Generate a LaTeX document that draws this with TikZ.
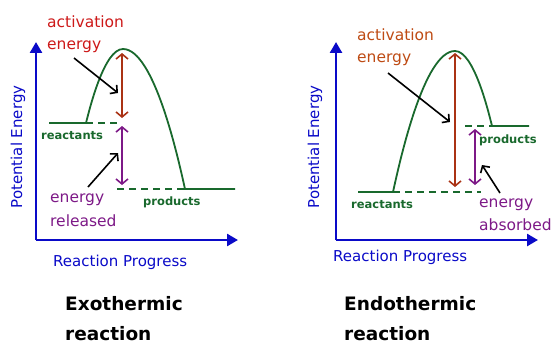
\documentclass[tikz,border=0pt]{standalone}
\usepackage{fontspec}
\setmainfont{DejaVu Sans}
\usetikzlibrary{arrows.meta}
\definecolor{axisblue}{RGB}{10,10,200}
\definecolor{curvegreen}{RGB}{25,105,45}
\definecolor{actred}{RGB}{205,25,25}
\definecolor{actorange}{RGB}{190,75,20}
\definecolor{arrowred}{RGB}{170,50,20}
\definecolor{deltapurple}{RGB}{125,25,135}

\begin{document}
\begin{tikzpicture}[
    x=1pt,y=-1pt,
    axis/.style={axisblue,line width=2.6pt,-{Triangle[length=11pt,width=12pt]}},
    curve/.style={curvegreen,line width=1.8pt},
    level/.style={curvegreen,line width=1.8pt,dash pattern=on 7pt off 5pt},
    gap/.style={line width=1.6pt,{Straight Barb[length=5pt,width=12pt]}-{Straight Barb[length=5pt,width=12pt]}},
    pointer/.style={black,line width=1.6pt,-{Straight Barb[length=5pt,width=11pt]}},
    lbl/.style={anchor=base west,inner sep=0pt,font=\fontsize{15.5}{17}\selectfont},
    tag/.style={anchor=base west,inner sep=0pt,curvegreen,font=\fontsize{11.5}{13}\selectfont\bfseries},
    axislbl/.style={inner sep=0pt,axisblue,font=\fontsize{15}{17}\selectfont},
    title/.style={anchor=base west,inner sep=0pt,font=\fontsize{18.5}{20}\selectfont\bfseries}
  ]
    \useasboundingbox (0,0) rectangle (551,345);

    % exothermic
    \coordinate (exo origin) at (36,240);
    \draw[axis] (exo origin) -- (36,42);
    \draw[axis] (exo origin) -- (238,240);
    \node[axislbl,rotate=90] (exo ylabel) at (18,147) {Potential Energy};
    \node[axislbl,anchor=base west] (exo xlabel) at (53,266) {Reaction Progress};

    \coordinate (exo react) at (86,123);
    \coordinate (exo peak) at (123,49);
    \coordinate (exo prod) at (185,189);
    \draw[curve] (49,123) -- (exo react) parabola bend (exo peak) (exo prod) -- (235,189);
    \draw[level] (exo react) -- (119,123);
    \draw[level] (117,189) -- (exo prod);

    \node[tag] (exo reactants) at (41,139) {reactants};
    \node[tag] (exo products) at (143,205) {products};

    \coordinate (exo top) at (122,53);
    \coordinate (exo mid) at (122,118);
    \coordinate (exo mid2) at (122,126);
    \coordinate (exo low) at (122,185);
    \draw[gap,arrowred] (exo top) -- (exo mid);
    \draw[gap,deltapurple] (exo mid2) -- (exo low);

    \node[lbl,actred] (exo act1) at (47,28) {activation};
    \node[lbl,actred] (exo act2) at (47,50) {energy};
    \node[lbl,deltapurple] (exo rel1) at (50,202) {energy};
    \node[lbl,deltapurple] (exo rel2) at (50,226) {released};
    \draw[pointer] (74,58) -- (118,93);
    \draw[pointer] (88,187) -- (118,153);

    \node[title] (exo title1) at (65,310) {Exothermic};
    \node[title] (exo title2) at (65,340) {reaction};

    % endothermic
    \coordinate (endo origin) at (336,240);
    \draw[axis] (endo origin) -- (336,42);
    \draw[axis] (endo origin) -- (538,240);
    \node[axislbl,rotate=90] (endo ylabel) at (315,147) {Potential Energy};
    \node[axislbl,anchor=base west] (endo xlabel) at (333,261) {Reaction Progress};

    \coordinate (endo react) at (393,192);
    \coordinate (endo peak) at (455,51);
    \coordinate (endo prod) at (492,126);
    \draw[curve] (358,192) -- (endo react) parabola bend (endo peak) (endo prod) -- (529,126);
    \draw[level] (endo react) -- (481,192);
    \draw[level] (465,126) -- (endo prod);

    \node[tag] (endo reactants) at (351,208) {reactants};
    \node[tag] (endo products) at (479,143) {products};

    \coordinate (endo top) at (455,53);
    \coordinate (endo low) at (455,187);
    \coordinate (endo dtop) at (475,129);
    \coordinate (endo dlow) at (475,185);
    \draw[gap,arrowred] (endo top) -- (endo low);
    \draw[gap,deltapurple] (endo dtop) -- (endo dlow);

    \node[lbl,actorange] (endo act1) at (357,41) {activation};
    \node[lbl,actorange] (endo act2) at (357,63) {energy};
    \node[lbl,deltapurple] (endo abs1) at (479,207) {energy};
    \node[lbl,deltapurple] (endo abs2) at (479,230) {absorbed};
    \draw[pointer] (388,73) -- (450,122);
    \draw[pointer] (500,193) -- (482,165);

    \node[title] (endo title1) at (344,310) {Endothermic};
    \node[title] (endo title2) at (344,340) {reaction};
\end{tikzpicture}
\end{document}
